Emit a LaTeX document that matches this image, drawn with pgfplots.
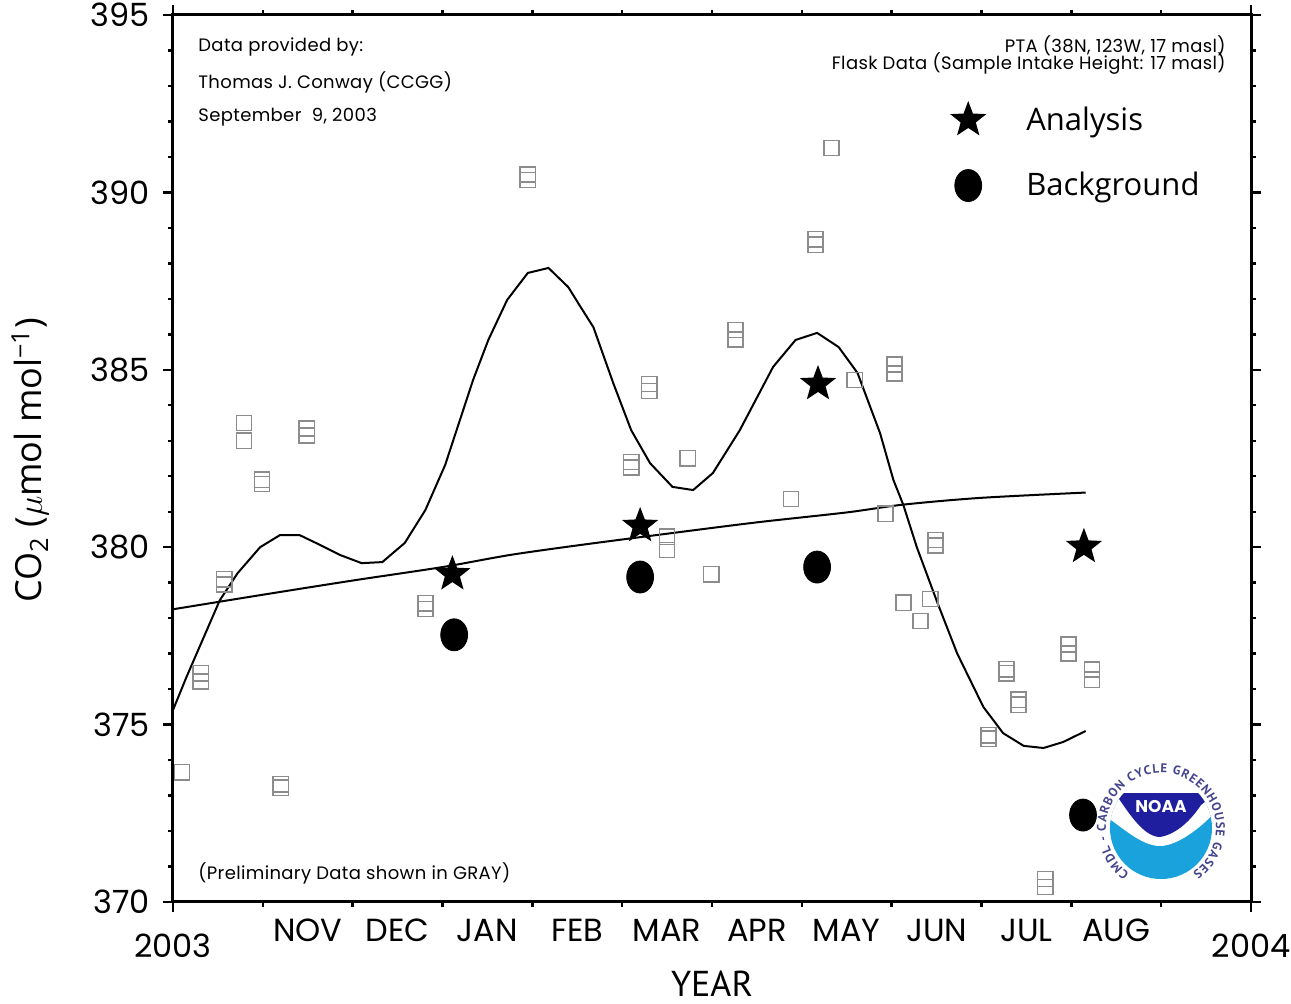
\documentclass[border=0pt]{standalone}
\usepackage{fontspec}
\setmainfont{Open Sans}
\newfontfamily\ncar[LetterSpace=2]{Poppins}
\newfontfamily\numfont{Poppins}
\newfontfamily\myr{PT Sans}
\usepackage{pgfplots}
\pgfplotsset{compat=1.18}
\usetikzlibrary{calc,decorations.text}
\definecolor{prelim}{HTML}{8C8C8C}
\definecolor{noaadark}{HTML}{1E1E9E}
\definecolor{noaalight}{HTML}{19A2DC}
\definecolor{ringtxt}{HTML}{45458F}

% filled five-point star
\pgfdeclareplotmark{fstar}{%
  \pgfpathmoveto{\pgfpointpolar{90}{\pgfplotmarksize}}%
  \pgfpathlineto{\pgfpointpolar{126}{0.42\pgfplotmarksize}}%
  \pgfpathlineto{\pgfpointpolar{162}{\pgfplotmarksize}}%
  \pgfpathlineto{\pgfpointpolar{198}{0.42\pgfplotmarksize}}%
  \pgfpathlineto{\pgfpointpolar{234}{\pgfplotmarksize}}%
  \pgfpathlineto{\pgfpointpolar{270}{0.42\pgfplotmarksize}}%
  \pgfpathlineto{\pgfpointpolar{306}{\pgfplotmarksize}}%
  \pgfpathlineto{\pgfpointpolar{342}{0.42\pgfplotmarksize}}%
  \pgfpathlineto{\pgfpointpolar{18}{\pgfplotmarksize}}%
  \pgfpathlineto{\pgfpointpolar{54}{0.42\pgfplotmarksize}}%
  \pgfpathclose\pgfusepathqfill}

% preliminary flask samples (month index, ppm)
\pgfplotstableread{
m v
0.10 373.66
0.31 376.22
0.31 376.45
0.57 378.95
0.57 379.10
0.79 383.00
0.79 383.50
0.99 381.78
0.99 381.90
1.20 373.22
1.20 373.32
1.49 383.15
1.49 383.35
2.81 378.26
2.81 378.42
3.95 390.35
3.95 390.50
5.10 382.25
5.10 382.40
5.30 384.40
5.30 384.60
5.50 379.92
5.50 380.29
5.73 382.51
5.99 379.24
6.26 385.85
6.26 386.12
6.88 381.36
7.15 388.52
7.15 388.68
7.33 391.25
7.59 384.71
7.93 380.94
8.03 384.90
8.03 385.15
8.13 378.43
8.32 377.92
8.43 378.54
8.49 380.05
8.49 380.20
9.08 374.60
9.08 374.70
9.28 376.45
9.28 376.56
9.41 375.56
9.41 375.70
9.71 370.42
9.71 370.65
9.97 377.00
9.97 377.26
10.23 376.26
10.23 376.55
}\prelim

\pgfplotstableread{
m v
0.00 375.41
0.15 376.34
0.52 378.50
0.72 379.27
0.97 380.00
1.19 380.34
1.41 380.34
1.64 380.06
1.86 379.78
2.10 379.55
2.33 379.58
2.58 380.12
2.81 381.05
3.03 382.32
3.34 384.71
3.51 385.84
3.72 386.97
3.95 387.73
4.18 387.87
4.40 387.33
4.53 386.80
4.68 386.20
4.90 384.63
5.10 383.30
5.31 382.37
5.56 381.70
5.79 381.61
6.01 382.09
6.31 383.30
6.68 385.08
6.93 385.84
7.17 386.04
7.41 385.64
7.62 384.91
7.87 383.22
8.02 381.89
8.13 381.19
8.28 380.00
8.51 378.43
8.73 377.00
9.02 375.50
9.24 374.76
9.47 374.40
9.69 374.34
9.91 374.51
10.16 374.82
}\smoothfit

\pgfplotstableread{
m v
0.00 378.25
1.00 378.66
2.00 379.06
3.00 379.44
3.75 379.78
4.53 380.06
5.50 380.38
6.50 380.70
7.50 380.98
8.13 381.20
8.99 381.39
10.16 381.54
}\trend

\begin{document}
\begin{tikzpicture}
\begin{axis}[
  scale only axis, width=539pt, height=443.5pt,
  xmin=0, xmax=12, ymin=370, ymax=395,
  axis line style={line width=1.5pt},
  tick align=outside,
  major tick length=5pt, minor tick length=2.5pt,
  every tick/.style={black, line width=1.2pt},
  xtick={0,12}, xticklabels={2003,2004},
  minor xtick={1,...,11},
  xticklabel style={font=\numfont\fontsize{16}{16}\selectfont, yshift=-7.5pt},
  extra x ticks={1.5,2.5,...,10.5},
  extra x tick labels={NOV,DEC,JAN,FEB,MAR,APR,MAY,JUN,JUL,AUG},
  extra x tick style={major tick length=0pt, tick label style={font=\myr\fontsize{14}{14}\selectfont, yshift=2.5pt}},
  ytick={370,375,...,395}, minor y tick num=4,
  yticklabel style={font=\numfont\fontsize{16}{16}\selectfont, xshift=-3pt},
  /pgf/number format/assume math mode=true,
  xlabel={YEAR},
  xlabel style={at={(axis description cs:0.5,-0.092)}, anchor=center, font=\myr\fontsize{18}{18}\selectfont},
  ylabel={CO\textsubscript{2} ($\mu$mol mol\textsuperscript{−1})},
  ylabel style={at={(axis description cs:-0.1327,0.498)}, anchor=center, font=\fontsize{18}{18}\selectfont},
  legend image code/.code={\draw[mark repeat=2,mark phase=2,#1] plot coordinates {(0pt,0pt)(10pt,0pt)(20pt,0pt)};},
  legend style={draw=none, fill=none, at={(rel axis cs:0.715,0.908)}, anchor=north west,
    font=\fontsize{15.5}{15.5}\selectfont, row sep=15.5pt,
    /tikz/every odd column/.append style={column sep=18pt}},
  legend cell align=left,
]
\addplot[only marks, mark=square, mark size=3.8pt, mark options={draw=prelim, line width=0.8pt}, forget plot] table[x=m,y=v] {\prelim};
\addplot[black, line width=1pt, forget plot] table[x=m,y=v] {\smoothfit};
\addplot[black, line width=1pt, smooth, forget plot] table[x=m,y=v] {\trend};
\addplot[only marks, mark=fstar, mark size=9.5pt, black] coordinates {(3.11,379.24) (5.20,380.60) (7.18,384.60) (10.14,380.01)};
\addlegendentry{Analysis}
\addplot[only marks, mark=*, mark size=8pt, mark options={xscale=0.84}, black] coordinates {(3.13,377.53) (5.20,379.16) (7.17,379.44) (10.13,372.45)};
\addlegendentry{Background}

\node[anchor=west, font=\ncar\fontsize{9}{9}\selectfont, inner sep=0pt] at (rel axis cs:0.0232,0.964) {Data provided by:};
\node[anchor=west, font=\ncar\fontsize{9}{9}\selectfont, inner sep=0pt] at (rel axis cs:0.0232,0.9245) {Thomas J. Conway (CCGG)};
\node[anchor=west, font=\ncar\fontsize{9}{9}\selectfont, inner sep=0pt] at (rel axis cs:0.0232,0.885) {September\ \ 9, 2003};
\node[anchor=east, font=\ncar\fontsize{9}{9}\selectfont, inner sep=0pt] at (rel axis cs:0.9768,0.965) {PTA (38N, 123W, 17 masl)};
\node[anchor=east, font=\ncar\fontsize{9}{9}\selectfont, inner sep=0pt] at (rel axis cs:0.9768,0.9448) {Flask Data (Sample Intake Height: 17 masl)};
\node[anchor=west, font=\ncar\fontsize{9}{9}\selectfont, inner sep=0pt] at (rel axis cs:0.0232,0.0327) {(Preliminary Data shown in GRAY)};
\coordinate (logo) at (rel axis cs:0.9165,0.0834);
\end{axis}

% NOAA / CMDL logo
\begin{scope}[shift={(logo)}]
  \begin{scope}
    \clip (-27pt,-27pt) rectangle (27pt,17.4pt);
    \clip (0,0) circle (25.5pt);
    \fill[noaalight] (-28pt,-28pt) rectangle (28pt,18pt);
    \fill[white] (-28pt,6pt) .. controls (-20pt,1pt) and (-10pt,-9pt) .. (-0.5pt,-9pt)
      .. controls (8pt,-9pt) and (20pt,0pt) .. (28pt,9pt) -- (28pt,18pt) -- (-28pt,18pt) -- cycle;
    \fill[noaadark] (-28pt,18pt) -- (-22pt,16pt) .. controls (-17pt,9pt) and (-9pt,-4.5pt) .. (-0.5pt,-4.5pt)
      .. controls (8pt,-3pt) and (15pt,4pt) .. (20pt,11.5pt) -- (28pt,18pt) -- cycle;
  \end{scope}
  \node[white, font=\numfont\bfseries\fontsize{8.5}{8.5}\selectfont, inner sep=0pt] at (0,11pt) {NOAA};
  \path[decorate, decoration={text along path, text align=fit to path,
      text={|\myr\bfseries\fontsize{6.3}{6.3}\selectfont\color{ringtxt}|CMDL - CARBON CYCLE GREENHOUSE GASES}}]
    (235:27.5pt) arc[start angle=235, end angle=-55, radius=27.5pt];
\end{scope}

\pgfresetboundingbox
\path[use as bounding box] ($(current axis.south west)+(-86.5pt,-51pt)$) rectangle ($(current axis.north east)+(20pt,7.5pt)$);
\end{tikzpicture}
\end{document}
